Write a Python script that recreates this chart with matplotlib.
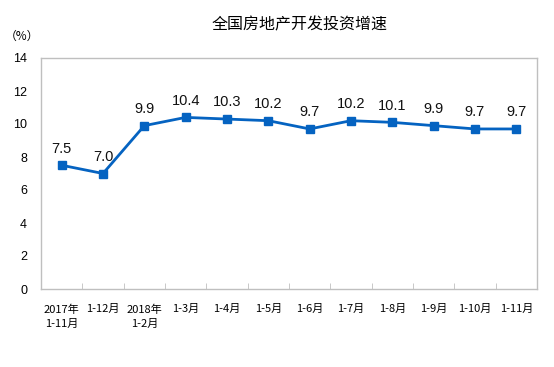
import matplotlib.pyplot as plt
import numpy as np

plt.rcParams['font.family'] = ['Noto Sans CJK SC', 'DejaVu Sans']

# dados
categorias = ['2017年\n1-11月', '1-12月', '2018年\n1-2月', '1-3月', '1-4月', '1-5月',
              '1-6月', '1-7月', '1-8月', '1-9月', '1-10月', '1-11月']
valores = [7.5, 7.0, 9.9, 10.4, 10.3, 10.2, 9.7, 10.2, 10.1, 9.9, 9.7, 9.7]
yticks = [0, 2, 4, 6, 8, 10, 12, 14]

fig = plt.figure(figsize=(5.54, 3.67), dpi=100)
ax = fig.add_axes([41/554, 1 - 289/367, 496/554, 231/367])

x = np.arange(len(valores))
cor = '#0563C1'
ax.plot(x, valores, color=cor, linewidth=2, marker='s', markersize=5.5)

for xi, v in zip(x, valores):
    ax.annotate(f'{v:.1f}', (xi, v), xytext=(0, 7), textcoords='offset points',
                ha='center', va='bottom', fontsize=10.5, color='#111111',
                family='Liberation Sans')

ax.set_xlim(-0.5, len(valores) - 0.5)
ax.set_ylim(0, 14)
ax.set_yticks(yticks)
ax.set_yticklabels([str(t) for t in yticks], fontsize=9, family='Liberation Sans')
ax.set_xticks(x)
ax.set_xticklabels(categorias, fontsize=8, linespacing=1.5, va='top')
ax.set_xticks(np.arange(len(valores) + 1) - 0.5, minor=True)
ax.tick_params(axis='x', which='major', length=0, pad=11)
ax.tick_params(axis='x', which='minor', length=4, direction='in', color='#BFBFBF')
ax.tick_params(axis='y', length=0, pad=10)
for s in ax.spines.values():
    s.set_color('#BFBFBF')
    s.set_linewidth(1)

fig.text(300/554, 1 - 25/367, '全国房地产开发投资增速', ha='center', va='center', fontsize=11.5)
fig.text(22/554, 1 - 36/367, '（%）', ha='center', va='center', fontsize=8.5)

fig.savefig('out.png', dpi=100)
